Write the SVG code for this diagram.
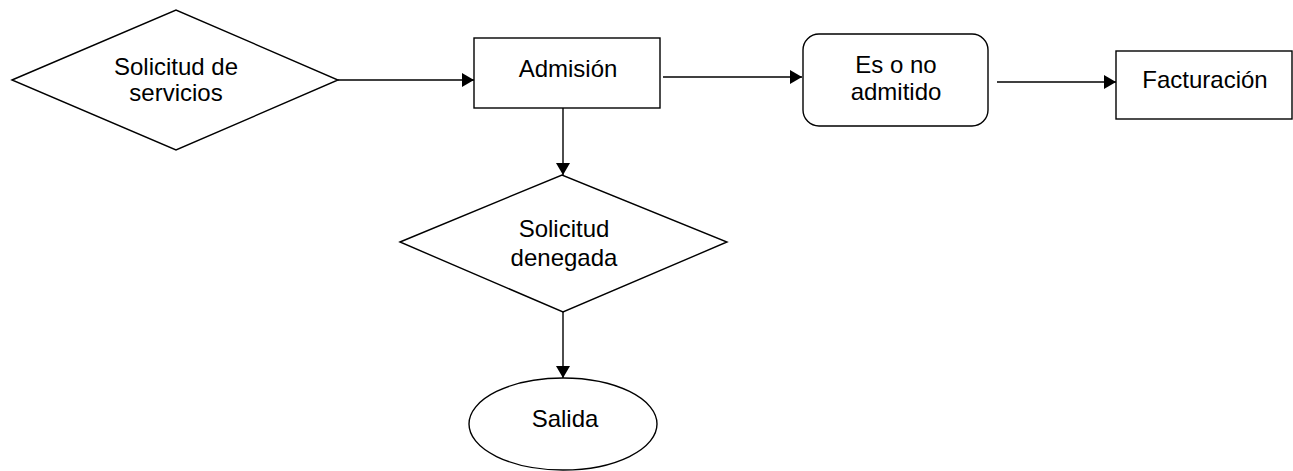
<svg xmlns="http://www.w3.org/2000/svg" width="1293" height="471" viewBox="0 0 1293 471">
<style>
.s{fill:#fff;stroke:#000;stroke-width:1.4}
.c{fill:none;stroke:#000;stroke-width:1.4}
text{font-family:"Liberation Sans",Arial,sans-serif;font-size:24px;fill:#000;text-anchor:middle}
</style>
<defs>
<marker id="ah" markerWidth="12" markerHeight="14" refX="12" refY="7" orient="auto" markerUnits="userSpaceOnUse">
<path d="M0,0 L12,7 L0,14 Z" fill="#000"/>
</marker>
</defs>
<rect width="1293" height="471" fill="#fff"/>
<g id="connectors">
<line class="c" x1="338" y1="80" x2="474" y2="80" marker-end="url(#ah)"/>
<line class="c" x1="663" y1="77" x2="802" y2="77" marker-end="url(#ah)"/>
<line class="c" x1="997" y1="82" x2="1116" y2="82" marker-end="url(#ah)"/>
<line class="c" x1="563" y1="108" x2="563" y2="175" marker-end="url(#ah)"/>
<line class="c" x1="563" y1="312" x2="563" y2="378" marker-end="url(#ah)"/>
</g>
<g id="solicitud-servicios">
<polygon class="s" points="12,80 176,10 338,80 176,150"/>
<text x="176" y="75">Solicitud de</text>
<text x="176" y="101">servicios</text>
</g>
<g id="admision">
<rect class="s" x="474" y="38" width="186" height="70"/>
<text x="568" y="77">Admisión</text>
</g>
<g id="admitido">
<rect class="s" x="803" y="34" width="185" height="92" rx="16"/>
<text x="896" y="73">Es o no</text>
<text x="896" y="100">admitido</text>
</g>
<g id="facturacion">
<rect class="s" x="1116" y="51" width="176" height="68"/>
<text x="1205" y="88">Facturación</text>
</g>
<g id="denegada">
<polygon class="s" points="400,242 562,175 727,242 563,312"/>
<text x="564" y="237">Solicitud</text>
<text x="564" y="266">denegada</text>
</g>
<g id="salida">
<ellipse class="s" cx="563" cy="424" rx="94" ry="46"/>
<text x="565" y="427">Salida</text>
</g>
</svg>
